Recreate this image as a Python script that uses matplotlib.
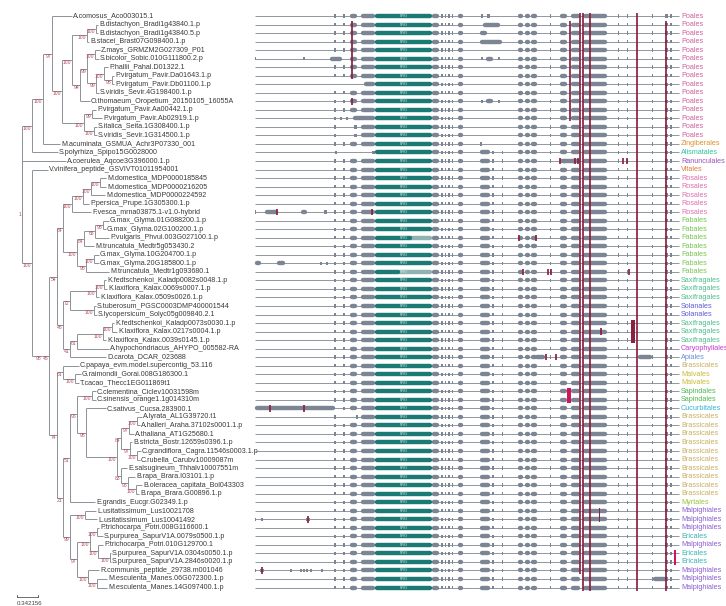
import matplotlib
matplotlib.use("Agg")
import matplotlib.pyplot as plt
from matplotlib.collections import LineCollection
from matplotlib.patches import Rectangle

# ---------------- data ----------------
NEWICK = """
((((A.comosus_Aco003015.1:0.326,
((((B.distachyon_Bradi1g43840.1.p:0.033,B.distachyon_Bradi1g43840.5.p:0.033)100:0.147,B.stacei_Brast07G098400.1.p:0.033)100:0.244,
(((Z.mays_GRMZM2G027309_P01:0.081,S.bicolor_Sobic.010G111800.2.p:0.065)100:0.130,
((P.hallii_Pahal.D01322.1:0.065,(P.virgatum_Pavir.Da01643.1.p:0.033,P.virgatum_Pavir.Db01100.1.p:0.033)98:0.130)100:0.130,S.viridis_Sevir.4G198400.1.p:0.049)99:0.147)99:0.114,
O.thomaeum_Oropetium_20150105_16055A:0.163)94:0.130)100:0.163,
((P.virgatum_Pavir.Aa00442.1.p:0.065,P.virgatum_Pavir.Ab02919.1.p:0.163)99:0.130,(S.italica_Seita.1G308400.1.p:0.049,S.viridis_Sevir.1G314500.1.p:0.049)100:0.163)100:0.359)100:0.163)97:0.147,
M.acuminata_GSMUA_Achr3P07330_001:0.277)100:0.179,
S.polyrhiza_Spipo15G0028000:0.424)100:0.163,
(A.coerulea_Aqcoe3G396000.1.p:0.717,
(V.vinifera_peptide_GSVIVT01011954001:0.261,
((((((((M.domestica_MDP0000185845:0.098,M.domestica_MDP0000216205:0.098)100:0.147,M.domestica_MDP0000224592:0.228)100:0.130,P.persica_Prupe.1G305300.1.p:0.098)100:0.179,F.vesca_mrna03875.1-v1.0-hybrid:0.310)100:0.147,
((((G.max_Glyma.01G088200.1.p:0.098,G.max_Glyma.02G100200.1.p:0.049)98:0.130,P.vulgaris_Phvul.003G027100.1.p:0.228)65:0.179,M.truncatula_Medtr5g053430.2:0.163)84:0.114,
((G.max_Glyma.10G204700.1.p:0.081,G.max_Glyma.20G185800.1.p:0.081)100:0.130,M.truncatula_Medtr1g093680.1:0.375)98:0.147)100:0.228)64:0.098,
((((K.fedtschenkoi_Kaladp0082s0048.1.p:0.033,K.laxiflora_Kalax.0069s0007.1.p:0.049)100:0.130,K.laxiflora_Kalax.0509s0026.1.p:0.049)100:0.424,
(S.tuberosum_PGSC0003DMP400001544:0.033,S.lycopersicum_Solyc05g009840.2.1:0.049)100:0.391)72:0.114,
((((K.fedtschenkoi_Kaladp0073s0030.1.p:0.033,K.laxiflora_Kalax.0217s0004.1.p:0.081)100:0.147,K.laxiflora_Kalax.0039s0145.1.p:0.049)100:0.424,
A.hypochondriacus_AHYPO_005582-RA:0.522)61:0.114,
D.carota_DCAR_023688:0.587)41:0.114)46:0.098)54:0.130,
((C.papaya_evm.model.supercontig_53.116:0.261,(G.raimondii_Gorai.008G186300.1:0.098,T.cacao_Thecc1EG011869t1:0.065)100:0.196)61:0.098,
((((C.clementina_Ciclev10031598m:0.065,C.sinensis_orange1.1g014310m:0.065)100:0.244,
(C.sativus_Cucsa.283900.1:0.326,
((((A.lyrata_AL1G39720.t1:0.081,A.halleri_Araha.37102s0001.1.p:0.049)100:0.130,A.thaliana_AT1G25680.1:0.081)97:0.130,
(B.stricta_Bostr.12659s0396.1.p:0.033,(C.grandiflora_Cagra.11546s0003.1.p:0.065,C.rubella_Carubv10009087m:0.049)100:0.114)97:0.147)84:0.065,
(E.salsugineum_Thhalv10007551m:0.098,(B.rapa_Brara.I03101.1.p:0.114,(B.oleracea_capitata_Bol043303:0.098,B.rapa_Brara.G00896.1.p:0.049)100:0.130)96:0.114)83:0.065)100:0.505)98:0.147)96:0.114,
E.grandis_Eucgr.G02349.1.p:0.407)51:0.114,
((L.usitatissimum_Lus10021708:0.179,L.usitatissimum_Lus10041492:0.196)100:0.244,
(((P.trichocarpa_Potri.008G116600.1:0.033,S.purpurea_SapurV1A.0079s0500.1.p:0.098)100:0.114,
(P.trichocarpa_Potri.010G129700.1:0.081,(S.purpurea_SapurV1A.0304s0050.1.p:0.016,S.purpurea_SapurV1A.2846s0020.1.p:0.016)100:0.196)100:0.130)100:0.212,
(R.communis_peptide_29738.m001046:0.179,(M.esculenta_Manes.06G072300.1.p:0.163,M.esculenta_Manes.14G097400.1.p:0.163)100:0.147)100:0.179)97:0.114)99:0.114)21:0.098)74:0.130)45:0.114)98:0.163)100:0.163)1;
"""
SCALE_LEN = 0.342156

ORDERS = (["Poales"] * 15 + ["Zingiberales", "Alismatales", "Ranunculales", "Vitales"]
          + ["Rosales"] * 5 + ["Fabales"] * 7 + ["Saxifragales"] * 3 + ["Solanales"] * 2
          + ["Saxifragales"] * 3 + ["Caryophyllales", "Apiales", "Brassicales"]
          + ["Malvales"] * 2 + ["Sapindales"] * 2 + ["Cucurbitales"] + ["Brassicales"] * 10
          + ["Myrtales"] + ["Malpighiales"] * 3 + ["Ericales", "Malpighiales", "Ericales", "Ericales"]
          + ["Malpighiales"] * 3)
ORDER_COLORS = {
    "Poales": "#d0609e", "Zingiberales": "#e0902c", "Alismatales": "#2ec4a0",
    "Ranunculales": "#9b55b8", "Vitales": "#de7d3a", "Rosales": "#e070b0",
    "Fabales": "#78c650", "Saxifragales": "#4fc08c", "Solanales": "#5d5bd4",
    "Caryophyllales": "#c83ccf", "Apiales": "#6a8fd8", "Brassicales": "#c8b060",
    "Malvales": "#cbbb35", "Sapindales": "#4cba50", "Cucurbitales": "#35b5d5",
    "Myrtales": "#98c43a", "Malpighiales": "#8b5fd0", "Ericales": "#3ab4b4",
}

# gene structure (positions along the gene panel)
GENE_END = 424
DOMAIN = (120, 177)
DOMAIN_NAME = "NPH3"
LEFT_EXONS = [(79, 80.5), (88, 89.5), (94.5, 102), (106, 120)]
MID_EXONS = [(177, 184), (186, 187.5), (189.5, 191), (193, 194.5), (196.5, 198), (203, 208.5)]
EARLY_RIGHT = [(225, 235), (237, 238.5), (246.5, 248)]
RIGHT_CORE = [(263, 268), (270, 275), (276, 282), (294.5, 296), (305, 312), (316, 325),
              (328, 352), (362.5, 364), (371.5, 373), (396.5, 398), (410, 413), (414.5, 417)]
MONOCOT_ROWS = 16
LEFT_OVERRIDE = {
    6: [(0, 1), (48, 49.5), (75, 87), (95, 102), (106, 120)],
    9: [(109, 120)],
    13: [(79, 80.5), (85, 86.5), (91, 92.5), (98, 120)],
    14: [(79, 80.5), (99, 102), (106, 120)],
    15: [(79, 80.5), (99, 102), (106, 120)],
    17: [(80, 81.5), (117, 120)],
    47: [(0, 80), (88, 89.5), (94.5, 102), (106, 120)],
    48: [(79, 80.5), (101, 102.5), (106, 120)],
}
EXTRA_EXONS = {
    1: [(226, 228), (231.5, 235)],
    2: [(228, 245)],
    3: [(225, 232)],
    4: [(225, 247)],
    6: [(226, 228), (231, 238), (243, 244.5)],
    11: [(226, 228), (231, 238), (243, 244.5)],
    16: [(225, 227)],
    18: [(307, 322)],
    24: [(0, 1), (10, 23), (46, 52), (69, 72)],
    30: [(0, 6), (22, 30), (65, 66.5), (71, 72.5)],
    41: [(280, 290), (383, 397)],
    60: [(0, 1), (6, 7.5), (51, 55)],
    66: [(0, 1), (5, 9), (35, 36.5), (45, 46.5), (48, 49.5), (51, 52.5), (55, 56.5), (66, 67.5)],
    67: [(398, 413)],
}
DOMAIN_DARK_END = {27: 155, 31: 143}

MOTIF_COLUMNS = [(97, 2, 8), (315, 2, 13), (324.5, 1, 66), (327.5, 1, 68),
                 (334.5, 1, 68), (382, 1, 68), (411, 2, 68)]
MOTIF_MARKS = [(11, 97), (18, 305), (18, 320), (18, 323), (18, 368), (18, 372),
               (24, 22), (24, 117), (27, 264), (27, 281), (31, 268), (31, 293),
               (31, 295.5), (31, 374), (38, 346), (41, 291), (41, 301), (47, 15),
               (47, 49), (60, 53), (66, 7)]
MOTIF_BLOCKS = [(376, 380, 37, 39, False), (312, 316, 45, 46, True),
                (343.5, 345, 59, 60, False), (418.5, 420.5, 64, 65, True)]

# ---------------- styling ----------------
W, H, DPI = 726, 606, 100
ROW0_PX, ROW_PX = 16.0, 8.53
TREE_ROOT_PX, TREE_W_PX = 22.0, 250.0
SCALE_PX = 21.0
GENE_AX_LEFT_PX, GENE_ORIGIN_PX = 240.0, 255.0

TREE_COL = "#8c9099"
TIP_COL = "#3a3a3a"
BOOT_COL = "#b4505c"
LINE_COL = "#8a9099"
EXON_COL = "#7b8593"
DOM_COL = "#1b7a73"
DOM_LIGHT = "#8fb3b0"
MOTIF_COL = "#8b2140"
MOTIF_BRIGHT = "#d4145a"
FONT = "Liberation Sans"


def parse_newick(s):
    s = "".join(s.split())
    pos = 0

    def node():
        nonlocal pos
        n = {"children": [], "name": "", "length": 0.0}
        if s[pos] == "(":
            pos += 1
            while True:
                n["children"].append(node())
                if s[pos] == ",":
                    pos += 1
                    continue
                pos += 1
                break
        st = pos
        while pos < len(s) and s[pos] not in ",():;":
            pos += 1
        n["name"] = s[st:pos]
        if pos < len(s) and s[pos] == ":":
            pos += 1
            st = pos
            while pos < len(s) and s[pos] not in ",();":
                pos += 1
            n["length"] = float(s[st:pos])
        return n

    return node()


tree = parse_newick(NEWICK)
tips = []


def layout(n, x):
    n["x"] = x
    if not n["children"]:
        n["y"] = len(tips)
        tips.append(n)
    else:
        for c in n["children"]:
            layout(c, x + c["length"])
        n["y"] = (n["children"][0]["y"] + n["children"][-1]["y"]) / 2.0


layout(tree, 0.0)

fig = plt.figure(figsize=(W / DPI, H / DPI), dpi=DPI)
ylim = ((H - ROW0_PX) / ROW_PX, -ROW0_PX / ROW_PX)
upx = SCALE_LEN / SCALE_PX  # tree units per pixel

# ---------------- tree ----------------
axt = fig.add_axes([0, 0, TREE_W_PX / W, 1])
axt.set_xlim(-TREE_ROOT_PX * upx, (TREE_W_PX - TREE_ROOT_PX) * upx)
axt.set_ylim(*ylim)
axt.axis("off")

segs = []


def draw(n):
    if n["children"]:
        ys = [c["y"] for c in n["children"]]
        segs.append([(n["x"], min(ys)), (n["x"], max(ys))])
        for c in n["children"]:
            segs.append([(n["x"], c["y"]), (c["x"], c["y"])])
            draw(c)
        if n["name"]:
            axt.text(n["x"] - 0.8 * upx, n["y"] + 0.3, n["name"], fontsize=3.6,
                     color=BOOT_COL, ha="right", va="center", family=FONT)
    else:
        axt.text(n["x"] + 1.0 * upx, n["y"], n["name"], fontsize=5.1, color=TIP_COL,
                 ha="left", va="center", family=FONT)


draw(tree)
axt.add_collection(LineCollection(segs, colors=TREE_COL, linewidths=0.7))

# scale bar
sb_x0 = -5 * upx
sb_y = (597 - ROW0_PX) / ROW_PX
axt.plot([sb_x0, sb_x0 + SCALE_LEN], [sb_y, sb_y], color="#555555", lw=0.6)
for xx in (sb_x0, sb_x0 + SCALE_LEN):
    axt.plot([xx, xx], [sb_y - 0.25, sb_y + 0.05], color="#555555", lw=0.6)
axt.text(sb_x0, sb_y + 0.75, f"{SCALE_LEN:g}", fontsize=4.4, color="#444444",
         ha="left", va="center", family=FONT)

# ---------------- gene structures ----------------
axg = fig.add_axes([GENE_AX_LEFT_PX / W, 0, 1 - GENE_AX_LEFT_PX / W, 1])
axg.set_xlim(GENE_AX_LEFT_PX - GENE_ORIGIN_PX, W - GENE_ORIGIN_PX)
axg.set_ylim(*ylim)
axg.axis("off")

EXON_H_PX = 4.4
EXON_LW = EXON_H_PX * 72.0 / DPI
small_h = 3.4 / ROW_PX

back, round_segs, dom_segs, light_segs = [], [], [], []
small_rects = []
for i in range(len(tips)):
    r = i + 1
    y = i
    back.append([(0, y), (GENE_END, y)])
    exons = list(LEFT_OVERRIDE.get(r, LEFT_EXONS)) + MID_EXONS + RIGHT_CORE
    if r > MONOCOT_ROWS:
        exons += EARLY_RIGHT
    exons += EXTRA_EXONS.get(r, [])
    for x0, x1 in exons:
        if x1 - x0 > EXON_H_PX:
            round_segs.append([(x0 + EXON_H_PX / 2, y), (x1 - EXON_H_PX / 2, y)])
        else:
            small_rects.append((x0, y, max(x1 - x0, 1.2)))
    d0, d1 = DOMAIN
    dend = DOMAIN_DARK_END.get(r, d1)
    if dend < d1:
        light_segs.append([(dend, y), (d1 - EXON_H_PX / 2, y)])
        dom_segs.append([(d0 + EXON_H_PX / 2, y), (dend, y)])
    else:
        dom_segs.append([(d0 + EXON_H_PX / 2, y), (d1 - EXON_H_PX / 2, y)])
    axg.text((d0 + d1) / 2, y, DOMAIN_NAME, fontsize=2.2, color="#d8ecea",
             ha="center", va="center", family=FONT, zorder=4)

axg.add_collection(LineCollection(back, colors=LINE_COL, linewidths=0.65, zorder=1))
axg.add_collection(LineCollection(round_segs, colors=EXON_COL, linewidths=EXON_LW,
                                  capstyle="round", zorder=2))
axg.add_collection(LineCollection(light_segs, colors=DOM_LIGHT, linewidths=EXON_LW,
                                  capstyle="round", zorder=2))
axg.add_collection(LineCollection(dom_segs, colors=DOM_COL, linewidths=EXON_LW,
                                  capstyle="round", zorder=3))
for x0, y, w in small_rects:
    axg.add_patch(Rectangle((x0, y - small_h / 2), w, small_h, color=EXON_COL, lw=0, zorder=2))

# motifs
mseg = []
for x, r0, r1 in MOTIF_COLUMNS:
    mseg.append([(x, r0 - 1 - 0.36), (x, r1 - 1 + 0.36)])
for r, x in MOTIF_MARKS:
    mseg.append([(x, r - 1 - 0.38), (x, r - 1 + 0.38)])
axg.add_collection(LineCollection(mseg, colors=MOTIF_COL, linewidths=1.25, zorder=5))
for x0, x1, r0, r1, bright in MOTIF_BLOCKS:
    axg.add_patch(Rectangle((x0, r0 - 1 - 0.36), x1 - x0, r1 - r0 + 0.72,
                            color=MOTIF_BRIGHT if bright else MOTIF_COL, lw=0, zorder=5))

# order labels
for i, order in enumerate(ORDERS):
    axg.text(GENE_END + 2, i, order, fontsize=5.2, color=ORDER_COLORS[order],
             ha="left", va="center", family=FONT)

fig.savefig("out.png", dpi=DPI)
